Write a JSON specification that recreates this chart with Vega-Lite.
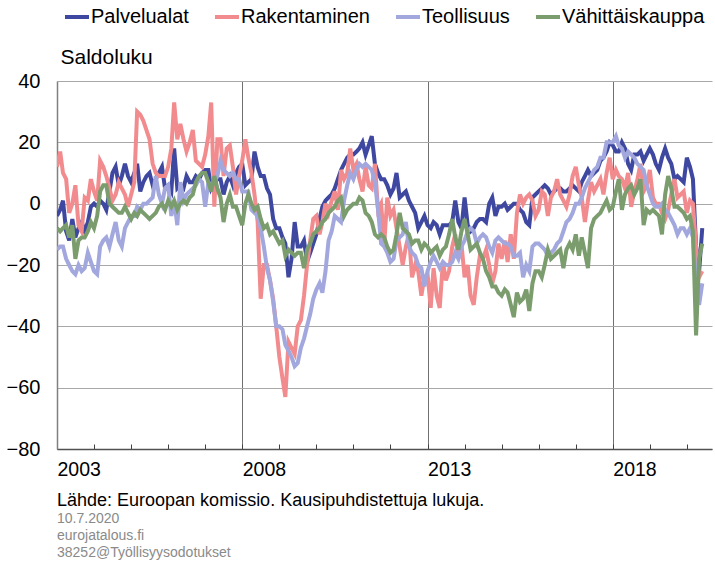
{
"$schema": "https://vega.github.io/schema/vega-lite/v6.json",
"width": 655, "height": 368,
"autosize": {"type": "none"},
"padding": {"left": 57, "top": 81, "right": 3, "bottom": 112},
"config": {"view": {"stroke": null}, "font": "Liberation Sans"},
"title": {"text": "Lähde: Euroopan komissio. Kausipuhdistettuja lukuja.", "subtitle": ["10.7.2020", "eurojatalous.fi", "38252@Työllisyysodotukset"], "orient": "bottom", "anchor": "start", "frame": "group", "offset": 13, "fontSize": 18, "fontWeight": "normal", "font": "Liberation Sans", "color": "#000000", "subtitleFontSize": 14, "subtitleColor": "#8a8a8a", "subtitlePadding": 2, "subtitleLineHeight": 17, "subtitleFont": "Liberation Sans"},
"data": {"values": [
{"date":"2003-01-01","Palvelualat":-4,"Rakentaminen":12,"Teollisuus":-15,"Vähittäiskauppa":-8},
{"date":"2003-02-01","Palvelualat":-2,"Rakentaminen":17,"Teollisuus":-14,"Vähittäiskauppa":-9},
{"date":"2003-03-01","Palvelualat":1,"Rakentaminen":10,"Teollisuus":-14,"Vähittäiskauppa":-8},
{"date":"2003-04-01","Palvelualat":-9,"Rakentaminen":8,"Teollisuus":-18,"Vähittäiskauppa":-7},
{"date":"2003-05-01","Palvelualat":-12,"Rakentaminen":-3,"Teollisuus":-20,"Vähittäiskauppa":-11},
{"date":"2003-06-01","Palvelualat":-5,"Rakentaminen":0,"Teollisuus":-22,"Vähittäiskauppa":-7},
{"date":"2003-07-01","Palvelualat":-11,"Rakentaminen":6,"Teollisuus":-23,"Vähittäiskauppa":-18},
{"date":"2003-08-01","Palvelualat":-8,"Rakentaminen":-7,"Teollisuus":-20,"Vähittäiskauppa":-12},
{"date":"2003-09-01","Palvelualat":-6,"Rakentaminen":-9,"Teollisuus":-22,"Vähittäiskauppa":-11},
{"date":"2003-10-01","Palvelualat":-9,"Rakentaminen":2,"Teollisuus":-21,"Vähittäiskauppa":-11},
{"date":"2003-11-01","Palvelualat":-6,"Rakentaminen":1,"Teollisuus":-16,"Vähittäiskauppa":-9},
{"date":"2003-12-01","Palvelualat":-1,"Rakentaminen":8,"Teollisuus":-19,"Vähittäiskauppa":-6},
{"date":"2004-01-01","Palvelualat":0,"Rakentaminen":4,"Teollisuus":-22,"Vähittäiskauppa":-8},
{"date":"2004-02-01","Palvelualat":-1,"Rakentaminen":1,"Teollisuus":-23,"Vähittäiskauppa":-4},
{"date":"2004-03-01","Palvelualat":1,"Rakentaminen":14,"Teollisuus":-14,"Vähittäiskauppa":4},
{"date":"2004-04-01","Palvelualat":0,"Rakentaminen":12,"Teollisuus":-12,"Vähittäiskauppa":6},
{"date":"2004-05-01","Palvelualat":-2,"Rakentaminen":9,"Teollisuus":-11,"Vähittäiskauppa":6},
{"date":"2004-06-01","Palvelualat":4,"Rakentaminen":5,"Teollisuus":-14,"Vähittäiskauppa":0},
{"date":"2004-07-01","Palvelualat":10,"Rakentaminen":1,"Teollisuus":-10,"Vähittäiskauppa":-1},
{"date":"2004-08-01","Palvelualat":12,"Rakentaminen":3,"Teollisuus":-6,"Vähittäiskauppa":-2},
{"date":"2004-09-01","Palvelualat":6,"Rakentaminen":7,"Teollisuus":-12,"Vähittäiskauppa":-3},
{"date":"2004-10-01","Palvelualat":9,"Rakentaminen":5,"Teollisuus":-14,"Vähittäiskauppa":-3},
{"date":"2004-11-01","Palvelualat":13,"Rakentaminen":3,"Teollisuus":-8,"Vähittäiskauppa":-1},
{"date":"2004-12-01","Palvelualat":9,"Rakentaminen":-1,"Teollisuus":-6,"Vähittäiskauppa":-3},
{"date":"2005-01-01","Palvelualat":7,"Rakentaminen":3,"Teollisuus":-4,"Vähittäiskauppa":-5},
{"date":"2005-02-01","Palvelualat":10,"Rakentaminen":7,"Teollisuus":-4,"Vähittäiskauppa":-3},
{"date":"2005-03-01","Palvelualat":13,"Rakentaminen":30,"Teollisuus":-1,"Vähittäiskauppa":-4},
{"date":"2005-04-01","Palvelualat":4,"Rakentaminen":29,"Teollisuus":-2,"Vähittäiskauppa":-2},
{"date":"2005-05-01","Palvelualat":7,"Rakentaminen":27,"Teollisuus":0,"Vähittäiskauppa":-3},
{"date":"2005-06-01","Palvelualat":9,"Rakentaminen":24,"Teollisuus":0,"Vähittäiskauppa":-4},
{"date":"2005-07-01","Palvelualat":10,"Rakentaminen":21,"Teollisuus":1,"Vähittäiskauppa":-5},
{"date":"2005-08-01","Palvelualat":6,"Rakentaminen":13,"Teollisuus":2,"Vähittäiskauppa":-4},
{"date":"2005-09-01","Palvelualat":8,"Rakentaminen":10,"Teollisuus":9,"Vähittäiskauppa":-3},
{"date":"2005-10-01","Palvelualat":10,"Rakentaminen":9,"Teollisuus":3,"Vähittäiskauppa":-1},
{"date":"2005-11-01","Palvelualat":12,"Rakentaminen":9,"Teollisuus":0,"Vähittäiskauppa":0},
{"date":"2005-12-01","Palvelualat":5,"Rakentaminen":9,"Teollisuus":5,"Vähittäiskauppa":-2},
{"date":"2006-01-01","Palvelualat":6,"Rakentaminen":12,"Teollisuus":6,"Vähittäiskauppa":1},
{"date":"2006-02-01","Palvelualat":4,"Rakentaminen":18,"Teollisuus":-4,"Vähittäiskauppa":-1},
{"date":"2006-03-01","Palvelualat":18,"Rakentaminen":33,"Teollisuus":1,"Vähittäiskauppa":1},
{"date":"2006-04-01","Palvelualat":5,"Rakentaminen":21,"Teollisuus":-7,"Vähittäiskauppa":-2},
{"date":"2006-05-01","Palvelualat":6,"Rakentaminen":26,"Teollisuus":7,"Vähittäiskauppa":0},
{"date":"2006-06-01","Palvelualat":5,"Rakentaminen":21,"Teollisuus":1,"Vähittäiskauppa":1},
{"date":"2006-07-01","Palvelualat":9,"Rakentaminen":17,"Teollisuus":3,"Vähittäiskauppa":0},
{"date":"2006-08-01","Palvelualat":7,"Rakentaminen":20,"Teollisuus":4,"Vähittäiskauppa":2},
{"date":"2006-09-01","Palvelualat":7,"Rakentaminen":24,"Teollisuus":5,"Vähittäiskauppa":3},
{"date":"2006-10-01","Palvelualat":9,"Rakentaminen":14,"Teollisuus":6,"Vähittäiskauppa":7},
{"date":"2006-11-01","Palvelualat":8,"Rakentaminen":13,"Teollisuus":8,"Vähittäiskauppa":9},
{"date":"2006-12-01","Palvelualat":10,"Rakentaminen":12,"Teollisuus":7,"Vähittäiskauppa":10},
{"date":"2007-01-01","Palvelualat":11,"Rakentaminen":16,"Teollisuus":-1,"Vähittäiskauppa":10},
{"date":"2007-02-01","Palvelualat":11,"Rakentaminen":22,"Teollisuus":7,"Vähittäiskauppa":7},
{"date":"2007-03-01","Palvelualat":5,"Rakentaminen":33,"Teollisuus":6,"Vähittäiskauppa":4},
{"date":"2007-04-01","Palvelualat":7,"Rakentaminen":-1,"Teollisuus":7,"Vähittäiskauppa":9},
{"date":"2007-05-01","Palvelualat":8,"Rakentaminen":21,"Teollisuus":9,"Vähittäiskauppa":5},
{"date":"2007-06-01","Palvelualat":8,"Rakentaminen":21,"Teollisuus":14,"Vähittäiskauppa":2},
{"date":"2007-07-01","Palvelualat":3,"Rakentaminen":9,"Teollisuus":11,"Vähittäiskauppa":-6},
{"date":"2007-08-01","Palvelualat":7,"Rakentaminen":18,"Teollisuus":10,"Vähittäiskauppa":0},
{"date":"2007-09-01","Palvelualat":9,"Rakentaminen":19,"Teollisuus":9,"Vähittäiskauppa":3},
{"date":"2007-10-01","Palvelualat":6,"Rakentaminen":12,"Teollisuus":10,"Vähittäiskauppa":-1},
{"date":"2007-11-01","Palvelualat":10,"Rakentaminen":3,"Teollisuus":8,"Vähittäiskauppa":-1},
{"date":"2007-12-01","Palvelualat":12,"Rakentaminen":9,"Teollisuus":8,"Vähittäiskauppa":-4},
{"date":"2008-01-01","Palvelualat":13,"Rakentaminen":14,"Teollisuus":4,"Vähittäiskauppa":-7},
{"date":"2008-02-01","Palvelualat":6,"Rakentaminen":21,"Teollisuus":4,"Vähittäiskauppa":0},
{"date":"2008-03-01","Palvelualat":7,"Rakentaminen":15,"Teollisuus":4,"Vähittäiskauppa":3},
{"date":"2008-04-01","Palvelualat":8,"Rakentaminen":10,"Teollisuus":-2,"Vähittäiskauppa":0},
{"date":"2008-05-01","Palvelualat":17,"Rakentaminen":3,"Teollisuus":-3,"Vähittäiskauppa":-2},
{"date":"2008-06-01","Palvelualat":12,"Rakentaminen":-6,"Teollisuus":-4,"Vähittäiskauppa":-1},
{"date":"2008-07-01","Palvelualat":9,"Rakentaminen":-31,"Teollisuus":-8,"Vähittäiskauppa":-5},
{"date":"2008-08-01","Palvelualat":9,"Rakentaminen":-20,"Teollisuus":-14,"Vähittäiskauppa":-8},
{"date":"2008-09-01","Palvelualat":5,"Rakentaminen":-20,"Teollisuus":-21,"Vähittäiskauppa":-7},
{"date":"2008-10-01","Palvelualat":3,"Rakentaminen":-25,"Teollisuus":-25,"Vähittäiskauppa":-10},
{"date":"2008-11-01","Palvelualat":-5,"Rakentaminen":-31,"Teollisuus":-32,"Vähittäiskauppa":-9},
{"date":"2008-12-01","Palvelualat":-8,"Rakentaminen":-40,"Teollisuus":-40,"Vähittäiskauppa":-11},
{"date":"2009-01-01","Palvelualat":-8,"Rakentaminen":-50,"Teollisuus":-40,"Vähittäiskauppa":-13},
{"date":"2009-02-01","Palvelualat":-11,"Rakentaminen":-57,"Teollisuus":-41,"Vähittäiskauppa":-12},
{"date":"2009-03-01","Palvelualat":-13,"Rakentaminen":-63,"Teollisuus":-46,"Vähittäiskauppa":-17},
{"date":"2009-04-01","Palvelualat":-24,"Rakentaminen":-45,"Teollisuus":-48,"Vähittäiskauppa":-15},
{"date":"2009-05-01","Palvelualat":-18,"Rakentaminen":-47,"Teollisuus":-50,"Vähittäiskauppa":-16},
{"date":"2009-06-01","Palvelualat":-6,"Rakentaminen":-49,"Teollisuus":-53,"Vähittäiskauppa":-17},
{"date":"2009-07-01","Palvelualat":-14,"Rakentaminen":-40,"Teollisuus":-52,"Vähittäiskauppa":-16},
{"date":"2009-08-01","Palvelualat":-14,"Rakentaminen":-38,"Teollisuus":-47,"Vähittäiskauppa":-16},
{"date":"2009-09-01","Palvelualat":-12,"Rakentaminen":-30,"Teollisuus":-44,"Vähittäiskauppa":-21},
{"date":"2009-10-01","Palvelualat":-19,"Rakentaminen":-20,"Teollisuus":-40,"Vähittäiskauppa":-15},
{"date":"2009-11-01","Palvelualat":-16,"Rakentaminen":-12,"Teollisuus":-36,"Vähittäiskauppa":-13},
{"date":"2009-12-01","Palvelualat":-13,"Rakentaminen":-5,"Teollisuus":-31,"Vähittäiskauppa":-10},
{"date":"2010-01-01","Palvelualat":-10,"Rakentaminen":-4,"Teollisuus":-28,"Vähittäiskauppa":-9},
{"date":"2010-02-01","Palvelualat":-5,"Rakentaminen":-10,"Teollisuus":-26,"Vähittäiskauppa":-8},
{"date":"2010-03-01","Palvelualat":-1,"Rakentaminen":-6,"Teollisuus":-29,"Vähittäiskauppa":-6},
{"date":"2010-04-01","Palvelualat":1,"Rakentaminen":0,"Teollisuus":-22,"Vähittäiskauppa":-5},
{"date":"2010-05-01","Palvelualat":2,"Rakentaminen":-3,"Teollisuus":-12,"Vähittäiskauppa":-3},
{"date":"2010-06-01","Palvelualat":3,"Rakentaminen":1,"Teollisuus":-9,"Vähittäiskauppa":-2},
{"date":"2010-07-01","Palvelualat":5,"Rakentaminen":4,"Teollisuus":-4,"Vähittäiskauppa":-1},
{"date":"2010-08-01","Palvelualat":8,"Rakentaminen":-2,"Teollisuus":-5,"Vähittäiskauppa":1},
{"date":"2010-09-01","Palvelualat":11,"Rakentaminen":11,"Teollisuus":-6,"Vähittäiskauppa":2},
{"date":"2010-10-01","Palvelualat":13,"Rakentaminen":8,"Teollisuus":1,"Vähittäiskauppa":-4},
{"date":"2010-11-01","Palvelualat":15,"Rakentaminen":10,"Teollisuus":6,"Vähittäiskauppa":-2},
{"date":"2010-12-01","Palvelualat":16,"Rakentaminen":18,"Teollisuus":10,"Vähittäiskauppa":-1},
{"date":"2011-01-01","Palvelualat":16,"Rakentaminen":11,"Teollisuus":8,"Vähittäiskauppa":0},
{"date":"2011-02-01","Palvelualat":17,"Rakentaminen":13,"Teollisuus":11,"Vähittäiskauppa":0},
{"date":"2011-03-01","Palvelualat":18,"Rakentaminen":8,"Teollisuus":13,"Vähittäiskauppa":2},
{"date":"2011-04-01","Palvelualat":20,"Rakentaminen":4,"Teollisuus":12,"Vähittäiskauppa":1},
{"date":"2011-05-01","Palvelualat":16,"Rakentaminen":12,"Teollisuus":13,"Vähittäiskauppa":-3},
{"date":"2011-06-01","Palvelualat":19,"Rakentaminen":6,"Teollisuus":12,"Vähittäiskauppa":-4},
{"date":"2011-07-01","Palvelualat":22,"Rakentaminen":5,"Teollisuus":11,"Vähittäiskauppa":-6},
{"date":"2011-08-01","Palvelualat":13,"Rakentaminen":13,"Teollisuus":7,"Vähittäiskauppa":-10},
{"date":"2011-09-01","Palvelualat":10,"Rakentaminen":-2,"Teollisuus":-2,"Vähittäiskauppa":-11},
{"date":"2011-10-01","Palvelualat":8,"Rakentaminen":0,"Teollisuus":-13,"Vähittäiskauppa":-10},
{"date":"2011-11-01","Palvelualat":8,"Rakentaminen":-13,"Teollisuus":-14,"Vähittäiskauppa":-11},
{"date":"2011-12-01","Palvelualat":6,"Rakentaminen":2,"Teollisuus":-16,"Vähittäiskauppa":-14},
{"date":"2012-01-01","Palvelualat":3,"Rakentaminen":-4,"Teollisuus":-19,"Vähittäiskauppa":-16},
{"date":"2012-02-01","Palvelualat":5,"Rakentaminen":-2,"Teollisuus":-18,"Vähittäiskauppa":-15},
{"date":"2012-03-01","Palvelualat":10,"Rakentaminen":-8,"Teollisuus":-12,"Vähittäiskauppa":-10},
{"date":"2012-04-01","Palvelualat":2,"Rakentaminen":-14,"Teollisuus":-11,"Vähittäiskauppa":-3},
{"date":"2012-05-01","Palvelualat":3,"Rakentaminen":-20,"Teollisuus":-10,"Vähittäiskauppa":-8},
{"date":"2012-06-01","Palvelualat":4,"Rakentaminen":-14,"Teollisuus":-6,"Vähittäiskauppa":-9},
{"date":"2012-07-01","Palvelualat":1,"Rakentaminen":-10,"Teollisuus":-14,"Vähittäiskauppa":-10},
{"date":"2012-08-01","Palvelualat":-1,"Rakentaminen":-24,"Teollisuus":-16,"Vähittäiskauppa":-13},
{"date":"2012-09-01","Palvelualat":-3,"Rakentaminen":-20,"Teollisuus":-17,"Vähittäiskauppa":-12},
{"date":"2012-10-01","Palvelualat":-8,"Rakentaminen":-22,"Teollisuus":-20,"Vähittäiskauppa":-12},
{"date":"2012-11-01","Palvelualat":-6,"Rakentaminen":-30,"Teollisuus":-21,"Vähittäiskauppa":-15},
{"date":"2012-12-01","Palvelualat":-4,"Rakentaminen":-24,"Teollisuus":-27,"Vähittäiskauppa":-13},
{"date":"2013-01-01","Palvelualat":-7,"Rakentaminen":-23,"Teollisuus":-22,"Vähittäiskauppa":-14},
{"date":"2013-02-01","Palvelualat":-8,"Rakentaminen":-34,"Teollisuus":-19,"Vähittäiskauppa":-16},
{"date":"2013-03-01","Palvelualat":-6,"Rakentaminen":-21,"Teollisuus":-17,"Vähittäiskauppa":-15},
{"date":"2013-04-01","Palvelualat":-7,"Rakentaminen":-30,"Teollisuus":-19,"Vähittäiskauppa":-14},
{"date":"2013-05-01","Palvelualat":-10,"Rakentaminen":-34,"Teollisuus":-21,"Vähittäiskauppa":-17},
{"date":"2013-06-01","Palvelualat":-7,"Rakentaminen":-19,"Teollisuus":-19,"Vähittäiskauppa":-15},
{"date":"2013-07-01","Palvelualat":-7,"Rakentaminen":-25,"Teollisuus":-20,"Vähittäiskauppa":-14},
{"date":"2013-08-01","Palvelualat":-7,"Rakentaminen":-22,"Teollisuus":-20,"Vähittäiskauppa":-10},
{"date":"2013-09-01","Palvelualat":-6,"Rakentaminen":-14,"Teollisuus":-19,"Vähittäiskauppa":-5},
{"date":"2013-10-01","Palvelualat":1,"Rakentaminen":-10,"Teollisuus":-16,"Vähittäiskauppa":-11},
{"date":"2013-11-01","Palvelualat":-6,"Rakentaminen":-18,"Teollisuus":-18,"Vähittäiskauppa":-15},
{"date":"2013-12-01","Palvelualat":-8,"Rakentaminen":-13,"Teollisuus":-14,"Vähittäiskauppa":-9},
{"date":"2014-01-01","Palvelualat":2,"Rakentaminen":-24,"Teollisuus":-12,"Vähittäiskauppa":-5},
{"date":"2014-02-01","Palvelualat":-7,"Rakentaminen":-20,"Teollisuus":-9,"Vähittäiskauppa":-10},
{"date":"2014-03-01","Palvelualat":-9,"Rakentaminen":-30,"Teollisuus":-8,"Vähittäiskauppa":-15},
{"date":"2014-04-01","Palvelualat":-8,"Rakentaminen":-33,"Teollisuus":-9,"Vähittäiskauppa":-14},
{"date":"2014-05-01","Palvelualat":-6,"Rakentaminen":-24,"Teollisuus":-13,"Vähittäiskauppa":-13},
{"date":"2014-06-01","Palvelualat":-5,"Rakentaminen":-17,"Teollisuus":-11,"Vähittäiskauppa":-16},
{"date":"2014-07-01","Palvelualat":-5,"Rakentaminen":-18,"Teollisuus":-10,"Vähittäiskauppa":-18},
{"date":"2014-08-01","Palvelualat":-6,"Rakentaminen":-15,"Teollisuus":-11,"Vähittäiskauppa":-22},
{"date":"2014-09-01","Palvelualat":0,"Rakentaminen":-20,"Teollisuus":-14,"Vähittäiskauppa":-24},
{"date":"2014-10-01","Palvelualat":2,"Rakentaminen":-26,"Teollisuus":-16,"Vähittäiskauppa":-27},
{"date":"2014-11-01","Palvelualat":-4,"Rakentaminen":-22,"Teollisuus":-12,"Vähittäiskauppa":-27},
{"date":"2014-12-01","Palvelualat":-1,"Rakentaminen":-13,"Teollisuus":-11,"Vähittäiskauppa":-29},
{"date":"2015-01-01","Palvelualat":-1,"Rakentaminen":-18,"Teollisuus":-12,"Vähittäiskauppa":-30},
{"date":"2015-02-01","Palvelualat":0,"Rakentaminen":-12,"Teollisuus":-13,"Vähittäiskauppa":-28},
{"date":"2015-03-01","Palvelualat":-2,"Rakentaminen":-19,"Teollisuus":-13,"Vähittäiskauppa":-29},
{"date":"2015-04-01","Palvelualat":-1,"Rakentaminen":-10,"Teollisuus":-14,"Vähittäiskauppa":-33},
{"date":"2015-05-01","Palvelualat":0,"Rakentaminen":-18,"Teollisuus":-17,"Vähittäiskauppa":-37},
{"date":"2015-06-01","Palvelualat":0,"Rakentaminen":-3,"Teollisuus":-17,"Vähittäiskauppa":-29},
{"date":"2015-07-01","Palvelualat":-2,"Rakentaminen":3,"Teollisuus":-16,"Vähittäiskauppa":-32},
{"date":"2015-08-01","Palvelualat":-3,"Rakentaminen":0,"Teollisuus":-24,"Vähittäiskauppa":-31},
{"date":"2015-09-01","Palvelualat":-6,"Rakentaminen":2,"Teollisuus":-20,"Vähittäiskauppa":-28},
{"date":"2015-10-01","Palvelualat":-7,"Rakentaminen":3,"Teollisuus":-22,"Vähittäiskauppa":-35},
{"date":"2015-11-01","Palvelualat":2,"Rakentaminen":1,"Teollisuus":-14,"Vähittäiskauppa":-26},
{"date":"2015-12-01","Palvelualat":3,"Rakentaminen":-4,"Teollisuus":-13,"Vähittäiskauppa":-22},
{"date":"2016-01-01","Palvelualat":4,"Rakentaminen":-2,"Teollisuus":-13,"Vähittäiskauppa":-22},
{"date":"2016-02-01","Palvelualat":5,"Rakentaminen":4,"Teollisuus":-14,"Vähittäiskauppa":-24},
{"date":"2016-03-01","Palvelualat":6,"Rakentaminen":3,"Teollisuus":-15,"Vähittäiskauppa":-20},
{"date":"2016-04-01","Palvelualat":5,"Rakentaminen":-4,"Teollisuus":-17,"Vähittäiskauppa":-15},
{"date":"2016-05-01","Palvelualat":3,"Rakentaminen":2,"Teollisuus":-16,"Vähittäiskauppa":-18},
{"date":"2016-06-01","Palvelualat":4,"Rakentaminen":4,"Teollisuus":-15,"Vähittäiskauppa":-17},
{"date":"2016-07-01","Palvelualat":5,"Rakentaminen":8,"Teollisuus":-13,"Vähittäiskauppa":-16},
{"date":"2016-08-01","Palvelualat":5,"Rakentaminen":3,"Teollisuus":-12,"Vähittäiskauppa":-15},
{"date":"2016-09-01","Palvelualat":4,"Rakentaminen":1,"Teollisuus":-9,"Vähittäiskauppa":-21},
{"date":"2016-10-01","Palvelualat":4,"Rakentaminen":-1,"Teollisuus":-6,"Vähittäiskauppa":-15},
{"date":"2016-11-01","Palvelualat":5,"Rakentaminen":3,"Teollisuus":-5,"Vähittäiskauppa":-13},
{"date":"2016-12-01","Palvelualat":6,"Rakentaminen":9,"Teollisuus":-3,"Vähittäiskauppa":-15},
{"date":"2017-01-01","Palvelualat":5,"Rakentaminen":12,"Teollisuus":0,"Vähittäiskauppa":-10},
{"date":"2017-02-01","Palvelualat":4,"Rakentaminen":6,"Teollisuus":0,"Vähittäiskauppa":-17},
{"date":"2017-03-01","Palvelualat":7,"Rakentaminen":2,"Teollisuus":2,"Vähittäiskauppa":-11},
{"date":"2017-04-01","Palvelualat":9,"Rakentaminen":-6,"Teollisuus":5,"Vähittäiskauppa":-16},
{"date":"2017-05-01","Palvelualat":11,"Rakentaminen":1,"Teollisuus":7,"Vähittäiskauppa":-21},
{"date":"2017-06-01","Palvelualat":9,"Rakentaminen":7,"Teollisuus":9,"Vähittäiskauppa":-8},
{"date":"2017-07-01","Palvelualat":10,"Rakentaminen":4,"Teollisuus":11,"Vähittäiskauppa":-5},
{"date":"2017-08-01","Palvelualat":11,"Rakentaminen":6,"Teollisuus":12,"Vähittäiskauppa":-4},
{"date":"2017-09-01","Palvelualat":14,"Rakentaminen":8,"Teollisuus":15,"Vähittäiskauppa":-3},
{"date":"2017-10-01","Palvelualat":15,"Rakentaminen":3,"Teollisuus":15,"Vähittäiskauppa":-1},
{"date":"2017-11-01","Palvelualat":17,"Rakentaminen":10,"Teollisuus":20,"Vähittäiskauppa":1},
{"date":"2017-12-01","Palvelualat":20,"Rakentaminen":15,"Teollisuus":20,"Vähittäiskauppa":-2},
{"date":"2018-01-01","Palvelualat":19,"Rakentaminen":8,"Teollisuus":20,"Vähittäiskauppa":-1},
{"date":"2018-02-01","Palvelualat":17,"Rakentaminen":11,"Teollisuus":22,"Vähittäiskauppa":4},
{"date":"2018-03-01","Palvelualat":17,"Rakentaminen":9,"Teollisuus":19,"Vähittäiskauppa":8},
{"date":"2018-04-01","Palvelualat":20,"Rakentaminen":8,"Teollisuus":18,"Vähittäiskauppa":-2},
{"date":"2018-05-01","Palvelualat":18,"Rakentaminen":5,"Teollisuus":15,"Vähittäiskauppa":3},
{"date":"2018-06-01","Palvelualat":13,"Rakentaminen":10,"Teollisuus":17,"Vähittäiskauppa":5},
{"date":"2018-07-01","Palvelualat":11,"Rakentaminen":-1,"Teollisuus":16,"Vähittäiskauppa":6},
{"date":"2018-08-01","Palvelualat":16,"Rakentaminen":4,"Teollisuus":15,"Vähittäiskauppa":3},
{"date":"2018-09-01","Palvelualat":16,"Rakentaminen":8,"Teollisuus":13,"Vähittäiskauppa":5},
{"date":"2018-10-01","Palvelualat":17,"Rakentaminen":13,"Teollisuus":12,"Vähittäiskauppa":8},
{"date":"2018-11-01","Palvelualat":14,"Rakentaminen":4,"Teollisuus":11,"Vähittäiskauppa":-7},
{"date":"2018-12-01","Palvelualat":16,"Rakentaminen":6,"Teollisuus":6,"Vähittäiskauppa":-2},
{"date":"2019-01-01","Palvelualat":18,"Rakentaminen":11,"Teollisuus":3,"Vähittäiskauppa":-3},
{"date":"2019-02-01","Palvelualat":16,"Rakentaminen":2,"Teollisuus":0,"Vähittäiskauppa":-2},
{"date":"2019-03-01","Palvelualat":13,"Rakentaminen":0,"Teollisuus":-1,"Vähittäiskauppa":-3},
{"date":"2019-04-01","Palvelualat":11,"Rakentaminen":0,"Teollisuus":-1,"Vähittäiskauppa":-4},
{"date":"2019-05-01","Palvelualat":15,"Rakentaminen":-3,"Teollisuus":0,"Vähittäiskauppa":-10},
{"date":"2019-06-01","Palvelualat":18,"Rakentaminen":-5,"Teollisuus":-2,"Vähittäiskauppa":3},
{"date":"2019-07-01","Palvelualat":15,"Rakentaminen":-2,"Teollisuus":-3,"Vähittäiskauppa":9},
{"date":"2019-08-01","Palvelualat":13,"Rakentaminen":3,"Teollisuus":-5,"Vähittäiskauppa":5},
{"date":"2019-09-01","Palvelualat":8,"Rakentaminen":8,"Teollisuus":-7,"Vähittäiskauppa":-1},
{"date":"2019-10-01","Palvelualat":9,"Rakentaminen":2,"Teollisuus":-10,"Vähittäiskauppa":-1},
{"date":"2019-11-01","Palvelualat":8,"Rakentaminen":3,"Teollisuus":-8,"Vähittäiskauppa":-2},
{"date":"2019-12-01","Palvelualat":7,"Rakentaminen":4,"Teollisuus":-8,"Vähittäiskauppa":-3},
{"date":"2020-01-01","Palvelualat":15,"Rakentaminen":-3,"Teollisuus":-10,"Vähittäiskauppa":-5},
{"date":"2020-02-01","Palvelualat":12,"Rakentaminen":1,"Teollisuus":-8,"Vähittäiskauppa":-4},
{"date":"2020-03-01","Palvelualat":8,"Rakentaminen":0,"Teollisuus":-11,"Vähittäiskauppa":-9},
{"date":"2020-04-01","Palvelualat":-14,"Rakentaminen":-14,"Teollisuus":-25,"Vähittäiskauppa":-43},
{"date":"2020-05-01","Palvelualat":-22,"Rakentaminen":-24,"Teollisuus":-33,"Vähittäiskauppa":-18},
{"date":"2020-06-01","Palvelualat":-8,"Rakentaminen":-22,"Teollisuus":-26,"Vähittäiskauppa":-13}
]},
"transform": [{"fold": ["Palvelualat", "Rakentaminen", "Teollisuus", "Vähittäiskauppa"], "as": ["sarja", "arvo"]}],
"mark": {"type": "line", "strokeWidth": 4, "interpolate": "linear", "clip": true},
"encoding": {
"x": {"field": "date", "type": "temporal",
 "scale": {"type": "utc", "domain": [{"year": 2003, "month": 1, "date": 1, "utc": true}, {"year": 2020, "month": 9, "date": 5, "utc": true}]},
 "axis": {"title": null,
  "values": [{"year":2003,"month":1,"date":1,"utc":true},{"year":2004,"month":1,"date":1,"utc":true},{"year":2005,"month":1,"date":1,"utc":true},{"year":2006,"month":1,"date":1,"utc":true},{"year":2007,"month":1,"date":1,"utc":true},{"year":2008,"month":1,"date":1,"utc":true},{"year":2009,"month":1,"date":1,"utc":true},{"year":2010,"month":1,"date":1,"utc":true},{"year":2011,"month":1,"date":1,"utc":true},{"year":2012,"month":1,"date":1,"utc":true},{"year":2013,"month":1,"date":1,"utc":true},{"year":2014,"month":1,"date":1,"utc":true},{"year":2015,"month":1,"date":1,"utc":true},{"year":2016,"month":1,"date":1,"utc":true},{"year":2017,"month":1,"date":1,"utc":true},{"year":2018,"month":1,"date":1,"utc":true},{"year":2019,"month":1,"date":1,"utc":true},{"year":2020,"month":1,"date":1,"utc":true}],
  "labelExpr": "(utcyear(datum.value) - 2003) % 5 == 0 ? '' + utcyear(datum.value) : ''",
  "labelAlign": "left", "labelBaseline": "top", "labelFontSize": 19.5, "labelColor": "#000000", "labelPadding": 16, "labelFont": "Liberation Sans",
  "labelOverlap": false, "labelFlush": false,
  "ticks": true, "tickSize": -5, "tickColor": "#404040", "tickWidth": 1,
  "domain": true, "domainColor": "#505050", "domainWidth": 1.5,
  "grid": true, "gridColor": "#707070", "gridWidth": 1,
  "gridOpacity": {"condition": {"test": "(utcyear(datum.value) - 2003) % 5 == 0 && utcyear(datum.value) > 2003", "value": 1}, "value": 0}
 }},
"y": {"field": "arvo", "type": "quantitative",
 "scale": {"domain": [-80, 40], "nice": false, "zero": false},
 "axis": {"title": "Saldoluku", "titleAngle": 0, "titleAlign": "left", "titleBaseline": "middle", "titleX": 3, "titleY": -24, "titleFontSize": 21, "titleFontWeight": "normal", "titleColor": "#000000", "titleFont": "Liberation Sans",
  "values": [-80, -60, -40, -20, 0, 20, 40], "labelFontSize": 20, "labelColor": "#000000", "labelPadding": 17, "labelFont": "Liberation Sans",
  "ticks": false, "domain": true, "domainColor": "#808080", "domainWidth": 1.5,
  "grid": true, "gridColor": "#a8a8a8", "gridWidth": 1}},
"color": {"field": "sarja", "type": "nominal",
 "scale": {"domain": ["Palvelualat", "Rakentaminen", "Teollisuus", "Vähittäiskauppa"], "range": ["#3f48a0", "#f28b8e", "#a2a8de", "#7b9d6e"]},
 "legend": {"title": null, "orient": "none", "legendX": 6, "legendY": -78, "direction": "horizontal", "symbolType": "stroke", "symbolStrokeWidth": 4, "symbolSize": 576, "labelFontSize": 20, "labelFont": "Liberation Sans", "labelColor": "#000000", "labelLimit": 0, "columnPadding": 18, "labelOffset": 0}}
}
}
